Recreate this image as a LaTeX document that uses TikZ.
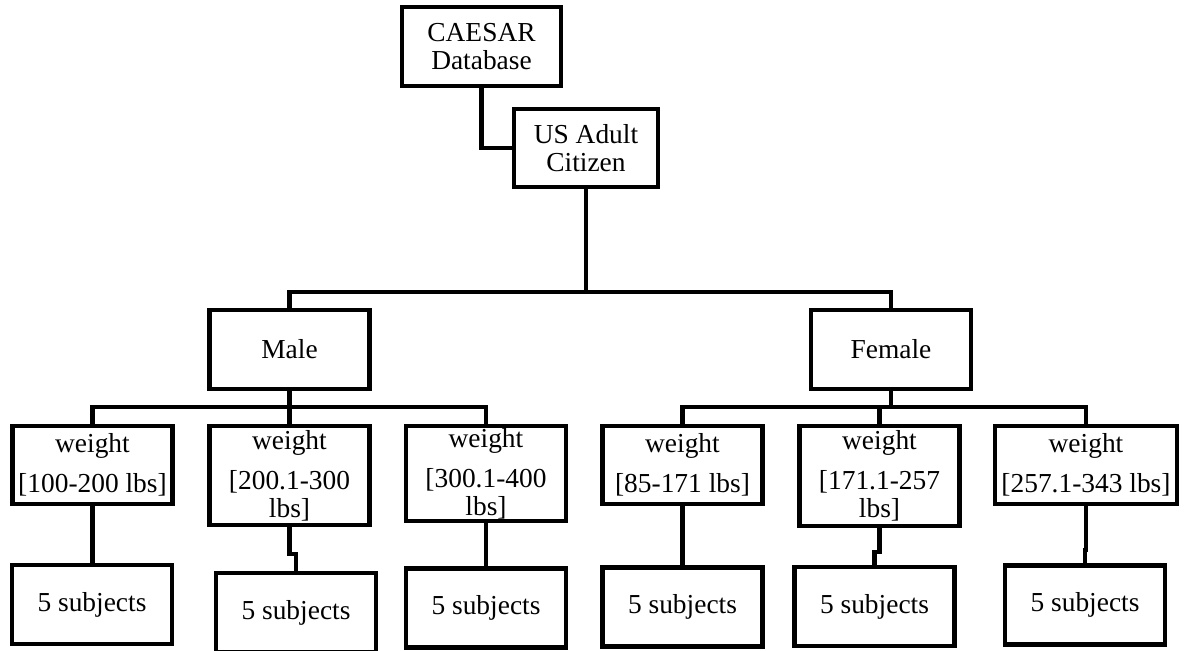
\documentclass[tikz,border=0pt]{standalone}
\usepackage{fontspec}
\setmainfont{Liberation Serif}
\usepackage{tikz}
\usetikzlibrary{positioning,calc}

\begin{document}
\begin{tikzpicture}[
    x=0.025cm, y=-0.025cm,
    box/.style={rectangle, draw, line width=0.11cm, align=center, inner sep=0pt, minimum width=4cm, minimum height=1.975cm, font=\fontsize{19.5}{20}\selectfont},
    link/.style={line width=0.11cm}
]
\useasboundingbox (0,0) rectangle (1184,651);

\node[box, minimum width=3.975cm] (caesar) at (481.5,46.5) {CAESAR\\Database};
\node[box, minimum width=3.6cm, minimum height=1.95cm] (usadult) at (586,148) {US Adult\\Citizen};
\node[box] (male) at (289.5,349.5) {Male};
\node[box] (female) at (891,349.5) {Female};

\node[box, minimum height=1.95cm] (w1) at (92.5,465) {weight\\[8.5pt]{[}100-200 lbs]};
\node[box, minimum height=2.475cm] (w2) at (289.5,475.5) {weight\\[8.5pt]{[}200.1-300\\lbs]};
\node[box, minimum height=2.375cm] (w3) at (486,473.5) {weight\\[8.5pt]{[}300.1-400\\lbs]};
\node[box, minimum height=1.95cm] (w4) at (682.5,465) {weight\\[8.5pt]{[}85-171 lbs]};
\node[box, minimum height=2.5cm] (w5) at (879.5,476) {weight\\[8.5pt]{[}171.1-257\\lbs]};
\node[box, minimum width=4.55cm, minimum height=1.95cm] (w6) at (1086,465) {weight\\[8.5pt]{[}257.1-343 lbs]};

\node[box] (s1) at (92,604.5) {5 subjects};
\node[box] (s2) at (296,612.5) {5 subjects};
\node[box] (s3) at (486,608) {5 subjects};
\node[box] (s4) at (682.5,607) {5 subjects};
\node[box] (s5) at (874.5,606.5) {5 subjects};
\node[box] (s6) at (1085,605) {5 subjects};

\coordinate (sexsplit) at (586,292);
\coordinate (msplit) at (289.5,407);
\coordinate (fsplit) at (891,407);

\draw[link] (caesar.south) |- (usadult.west);
\draw[link] (usadult.south) -- (sexsplit);
\draw[link] (male.north) |- (sexsplit) -| (female.north);

\draw[link] (male.south) -- (msplit);
\draw[link] (w1.north) |- (msplit) -| (w3.north);
\draw[link] (msplit) -- (w2.north);

\draw[link] (female.south) -- (fsplit);
\draw[link] (w4.north) |- (fsplit) -| (w6.north);
\draw[link] (w5.north) -- (w5.north |- fsplit);

\draw[link] (w1.south) -- (w1.south |- s1.north);
\draw[link] (w2.south) -- ++(0,27) -| (s2.north);
\draw[link] (w3.south) -- (s3.north);
\draw[link] (w4.south) -- (w4.south |- s4.north);
\draw[link] (w5.south) -- ++(0,24) -| (s5.north);
\draw[link] (w6.south) -- ++(0,44) -| (s6.north);

\end{tikzpicture}
\end{document}
